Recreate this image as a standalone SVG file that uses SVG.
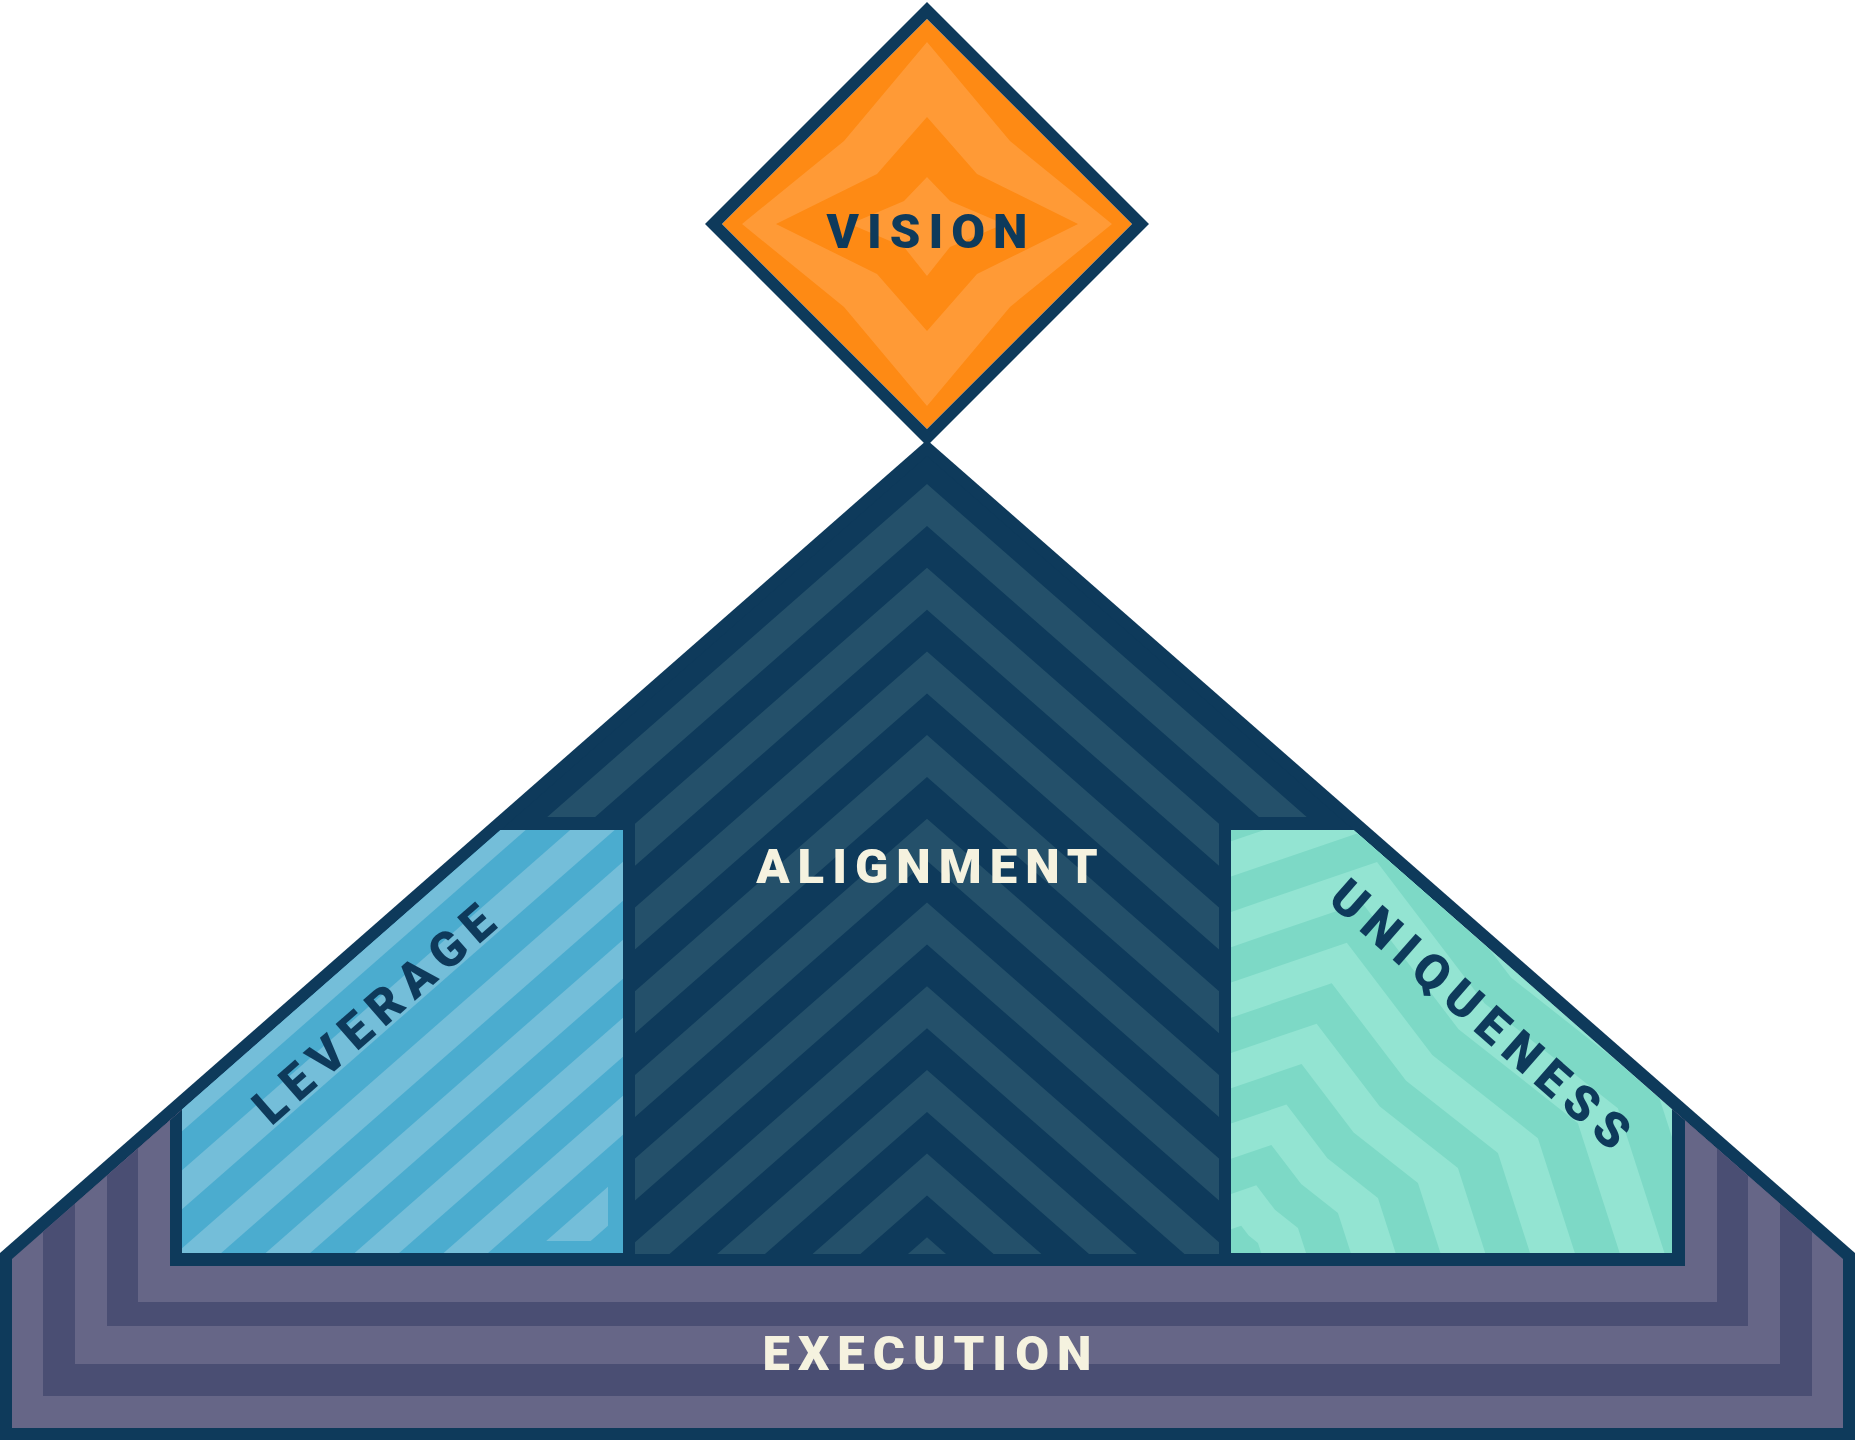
<svg xmlns="http://www.w3.org/2000/svg" width="1855" height="1440" viewBox="0 0 1855 1440">
<defs>
<style>
.lbl{font-family:Roboto,"Liberation Sans",Arial,sans-serif;font-weight:900;font-size:49px;letter-spacing:8px;text-anchor:middle}
.side{letter-spacing:9px}
.navyT{fill:#0E3A5B}
.creamT{fill:#F5F2DF}
.navy{fill:#0E3A5B}
.chev{fill:#24506A}
.exL{fill:#666687}
.exD{fill:#4A4E73}
.levD{fill:#4BACCF}
.levL{fill:#74BED9}
.uniL{fill:#93E4D2}
.uniD{fill:#7DD9C6}
.orD{fill:#FE8A14}
.orL{fill:#FF9A36}
</style>
<clipPath id="innerClip"><polygon points="927,456 1843,1259 1843,1428 12,1428 12,1259"/></clipPath>
<clipPath id="alignClip"><rect x="0" y="0" width="1855" height="817"/><rect x="635" y="0" width="584" height="1254"/></clipPath>
<clipPath id="levClip"><polygon points="182,1109.4 500.5,830 623,830 623,1253 182,1253"/></clipPath>
<clipPath id="levInset"><rect x="0" y="0" width="608" height="1241"/></clipPath>
<clipPath id="uniClip"><polygon points="1672,1109.4 1353.5,830 1231,830 1231,1253 1672,1253"/></clipPath>
<clipPath id="diaClip"><polygon points="927,19 1132,224 927,429 722,224"/></clipPath>
<path id="chevBand" d="M-73,1361 L927,484 L1927,1361 L1927,1403 L927,526 L-73,1403 Z"/>
<path id="levBand" d="M150,1120.4 L650,682 L650,721 L150,1159.4 Z"/>
<path id="uniStar" d="M-0.1,0.1 L1.042,0.1 L1.042,0 L0.93,-0.348 L0.61,-0.6 L0.351,-0.94 L0,-0.82 L-0.1,-0.82 Z"/>
</defs>

<g id="frame">
<polygon class="navy" points="927,440 1855,1253 1855,1440 0,1440 0,1253"/>
</g>

<g clip-path="url(#innerClip)">
<g id="execution">
<rect class="exL" x="0" y="900" width="1855" height="540"/>
<rect class="exD" x="43" y="900" width="1769" height="496"/>
<rect class="exL" x="75" y="900" width="1705" height="464"/>
<rect class="exD" x="107" y="900" width="1641" height="426"/>
<rect class="exL" x="138" y="900" width="1579" height="402"/>
<rect class="navy" x="170" y="0" width="1515" height="1266"/>
</g>
<g id="alignment">
<g clip-path="url(#alignClip)">
<use href="#chevBand" class="chev"/>
<use href="#chevBand" class="chev" transform="translate(0,83.7)"/>
<use href="#chevBand" class="chev" transform="translate(0,167.4)"/>
<use href="#chevBand" class="chev" transform="translate(0,251.1)"/>
<use href="#chevBand" class="chev" transform="translate(0,334.8)"/>
<use href="#chevBand" class="chev" transform="translate(0,418.5)"/>
<use href="#chevBand" class="chev" transform="translate(0,502.2)"/>
<use href="#chevBand" class="chev" transform="translate(0,585.9)"/>
<use href="#chevBand" class="chev" transform="translate(0,669.6)"/>
<use href="#chevBand" class="chev" transform="translate(0,753.3)"/>
</g>
</g>
</g>

<g id="leverage">
<g clip-path="url(#levClip)">
<rect class="levD" x="170" y="800" width="470" height="470"/>
<use href="#levBand" class="levL"/>
<use href="#levBand" class="levL" transform="translate(0,78)"/>
<use href="#levBand" class="levL" transform="translate(0,156)"/>
<use href="#levBand" class="levL" transform="translate(0,234)"/>
<use href="#levBand" class="levL" transform="translate(0,312)"/>
<use href="#levBand" class="levL" transform="translate(0,390)"/>
<g clip-path="url(#levInset)"><use href="#levBand" class="levL" transform="translate(0,468)"/></g>
</g>
<text class="lbl side navyT" transform="translate(385,1027) rotate(-41.25)" x="4.5" y="0">LEVERAGE</text>
</g>

<g id="uniqueness">
<g clip-path="url(#uniClip)">
<rect class="uniL" x="1220" y="800" width="470" height="470"/>
<use href="#uniStar" class="uniD" transform="translate(1231,1253) scale(545)"/>
<use href="#uniStar" class="uniL" transform="translate(1231,1253) scale(502)"/>
<use href="#uniStar" class="uniD" transform="translate(1231,1253) scale(459)"/>
<use href="#uniStar" class="uniL" transform="translate(1231,1253) scale(416)"/>
<use href="#uniStar" class="uniD" transform="translate(1231,1253) scale(373)"/>
<use href="#uniStar" class="uniL" transform="translate(1231,1253) scale(330)"/>
<use href="#uniStar" class="uniD" transform="translate(1231,1253) scale(287)"/>
<use href="#uniStar" class="uniL" transform="translate(1231,1253) scale(244)"/>
<use href="#uniStar" class="uniD" transform="translate(1231,1253) scale(201)"/>
<use href="#uniStar" class="uniL" transform="translate(1231,1253) scale(158)"/>
<use href="#uniStar" class="uniD" transform="translate(1231,1253) scale(115)"/>
<use href="#uniStar" class="uniL" transform="translate(1231,1253) scale(72)"/>
<use href="#uniStar" class="uniD" transform="translate(1231,1253) scale(29)"/>
</g>
<text class="lbl side navyT" transform="translate(1469,1027) rotate(41.25)" x="4.5" y="0">UNIQUENESS</text>
</g>

<text class="lbl creamT" x="931" y="883">ALIGNMENT</text>
<text class="lbl creamT" x="931" y="1370">EXECUTION</text>

<g id="vision">
<g clip-path="url(#diaClip)">
<rect class="orD" x="700" y="0" width="460" height="450"/>
<path class="orL" d="M927,42 L1010,141 L1112,224 L1010,307 L927,406 L844,307 L742,224 L844,141 Z"/>
<path class="orD" d="M927,117 L977,174 L1078,224 L977,274 L927,331 L877,274 L776,224 L877,174 Z"/>
<path class="orL" d="M927,177 L950,201 L1004,224 L950,247 L927,276 L904,247 L850,224 L904,201 Z"/>
</g>
<polygon points="927,10.5 1140.5,224 927,437.5 713.5,224" fill="none" stroke="#0E3A5B" stroke-width="12"/>
<text class="lbl navyT" x="931" y="248">VISION</text>
</g>

<g id="connectors"/>
</svg>
